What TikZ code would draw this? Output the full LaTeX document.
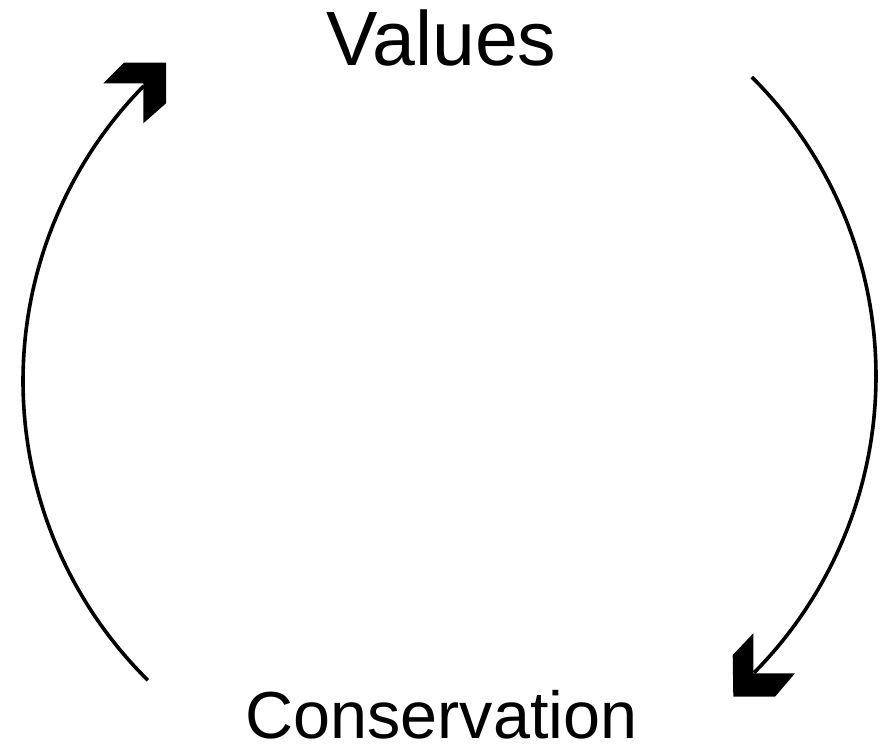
\documentclass[tikz,border=0pt]{standalone}
\usepackage{fontspec}
\setmainfont{Liberation Sans}
\begin{document}
\begin{tikzpicture}[x=1pt,y=-1pt,
  arcline/.style={line width=3.6pt,black},
  headfill/.style={fill=black,draw=none},
  bigtext/.style={inner sep=0pt,anchor=base}]
\useasboundingbox (0,0) rectangle (890,747);
\node[bigtext,font=\fontsize{77}{92}\selectfont] (values) at (441.5,65) {Values};
\node[bigtext,font=\fontsize{66.5}{80}\selectfont] (cons) at (441.5,738) {Conservation};
% left arc (upwards)
\draw[arcline] plot[domain=134.7:224.5,samples=120,smooth] ({444+421*cos(\x)},{381+421*sin(\x)});
\fill[headfill] (103.3,83.3) -- (124,62.7) -- (166,62.7) -- (166,103.3) -- (143.3,123.3) -- (143.3,83.3) -- cycle;
% right arc (downwards)
\draw[arcline] plot[domain=-45.1:44.7,samples=120,smooth] ({454+422*cos(\x)},{376+422*sin(\x)});
\fill[headfill] (753.3,633.3) -- (732.7,655) -- (733.3,696.7) -- (775,696.7) -- (795,673.3) -- (753.3,673.3) -- cycle;
\end{tikzpicture}
\end{document}
